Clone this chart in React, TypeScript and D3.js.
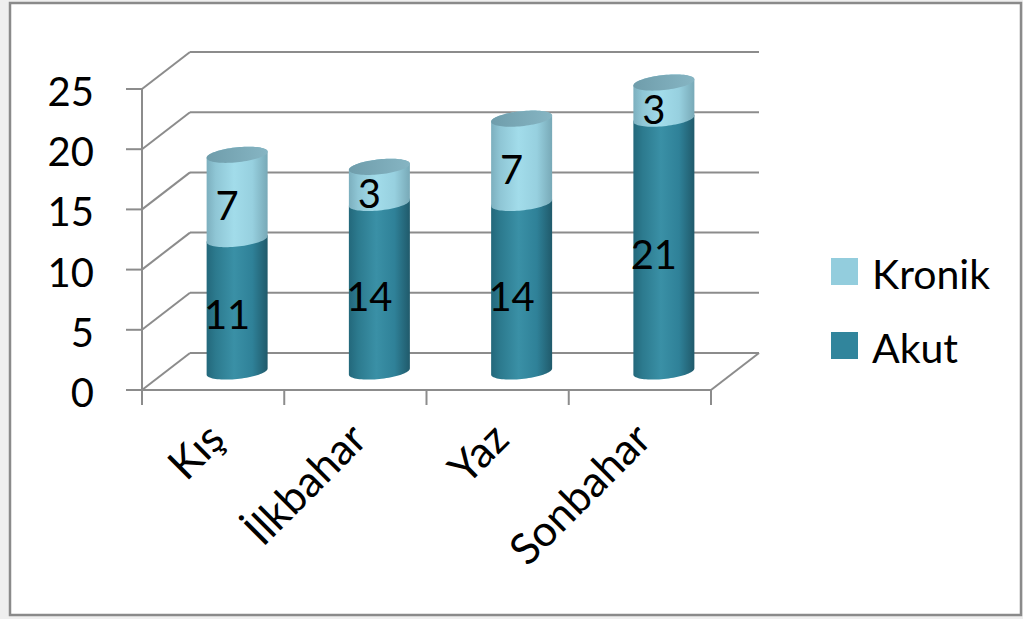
import React from "react";
import * as d3 from "d3";

const categories = ["Kış", "İlkbahar", "Yaz", "Sonbahar"];
const akut = [11, 14, 14, 21];
const kronik = [7, 3, 7, 3];
const yTicks = [0, 5, 10, 15, 20, 25];
const seriesNames = ["Kronik", "Akut"];

const W = 1023;
const H = 619;
const FONT = "Lato, 'Open Sans', sans-serif";

const DX = 48;
const DY = -37;
const RX = 30.5;
const RY = 7.5;
const SHEAR = 0.1;

function ellipsePt(cx: number, cy: number, t: number): [number, number] {
  const ex = RX * Math.cos(t);
  const ey = RY * Math.sin(t);
  return [cx + ex, cy + ey - SHEAR * ex];
}

function sidePath(cx: number, yTop: number, yBot: number): string {
  const p = d3.path();
  const [lx, ly] = ellipsePt(cx, yTop, Math.PI);
  p.moveTo(lx, ly);
  for (let i = 0; i <= 40; i++) {
    const t = Math.PI + (Math.PI * i) / 40;
    const [x, y] = ellipsePt(cx, yTop, t);
    p.lineTo(x, y);
  }
  for (let i = 0; i <= 40; i++) {
    const t = (Math.PI * i) / 40;
    const [x, y] = ellipsePt(cx, yBot, t);
    p.lineTo(x, y);
  }
  p.closePath();
  return p.toString();
}

function topPath(cx: number, y: number): string {
  const p = d3.path();
  for (let i = 0; i <= 80; i++) {
    const t = (2 * Math.PI * i) / 80;
    const [x, yy] = ellipsePt(cx, y, t);
    if (i === 0) p.moveTo(x, yy);
    else p.lineTo(x, yy);
  }
  p.closePath();
  return p.toString();
}

export default function App() {
  const x = d3.scaleBand<string>().domain(categories).range([142, 711]).padding(0);
  const y = d3.scaleLinear().domain([0, 25]).range([390, 89]);
  const x0 = 142;
  const x1 = 711;
  const gridColor = "#8c8c8c";

  const cyl = categories.map((c, i) => {
    const cx = (x(c) as number) + x.bandwidth() / 2 + DX / 2;
    const base = y(0) + DY / 2;
    const mid = y(akut[i]) + DY / 2;
    const top = y(akut[i] + kronik[i]) + DY / 2;
    return { c, i, cx, base, mid, top };
  });

  return (
    <svg
      width={W}
      height={H}
      style={{ position: "absolute", left: 0, top: 0, background: "#ffffff" }}
      fontFamily={FONT}
    >
      <defs>
        <linearGradient id="gAkut" x1="0" x2="1" y1="0" y2="0">
          <stop offset="0" stopColor="#23687b" />
          <stop offset="0.15" stopColor="#2c7a8e" />
          <stop offset="0.45" stopColor="#3a90a6" />
          <stop offset="0.75" stopColor="#2f8198" />
          <stop offset="1" stopColor="#205a6b" />
        </linearGradient>
        <linearGradient id="gKronik" x1="0" x2="1" y1="0" y2="0">
          <stop offset="0" stopColor="#7cafbe" />
          <stop offset="0.15" stopColor="#8fc6d5" />
          <stop offset="0.45" stopColor="#a2dcea" />
          <stop offset="0.75" stopColor="#97d0df" />
          <stop offset="1" stopColor="#78a9b7" />
        </linearGradient>
        <linearGradient id="gTop" x1="0" x2="1" y1="0" y2="0">
          <stop offset="0" stopColor="#6f9dab" />
          <stop offset="1" stopColor="#86b5c3" />
        </linearGradient>
      </defs>
      <rect x={0} y={0} width={W} height={H} fill="#efefef" />
      <rect x={10} y={3} width={1011} height={612} fill="#ffffff" stroke="#8a8a8a" strokeWidth={2.5} />

      <g stroke={gridColor} strokeWidth={2} fill="none">
        {yTicks.map((t) => (
          <g key={t}>
            <line x1={x0 + DX} x2={x1 + DX} y1={y(t) + DY} y2={y(t) + DY} />
            <line x1={x0} x2={x0 + DX} y1={y(t)} y2={y(t) + DY} />
            <line x1={126} x2={x0} y1={y(t)} y2={y(t)} />
          </g>
        ))}
        <line x1={x0} x2={x0} y1={y(25)} y2={y(0)} />
        <line x1={126} x2={x1} y1={y(0)} y2={y(0)} />
        <line x1={x1} x2={x1 + DX} y1={y(0)} y2={y(0) + DY} />
        {[...categories.map((c) => x(c) as number), x1].map((tx, i) => (
          <line key={i} x1={tx} x2={tx} y1={y(0)} y2={y(0) + 15} />
        ))}
      </g>

      <g fontSize={40} fill="#000" textAnchor="end">
        {yTicks.map((t) => (
          <text key={t} x={94} y={y(t) + 2} dominantBaseline="central">
            {t}
          </text>
        ))}
      </g>

      {cyl.map((d) => (
        <g key={d.c}>
          <path d={sidePath(d.cx, d.mid, d.base)} fill="url(#gAkut)" />
          <path d={sidePath(d.cx, d.top, d.mid)} fill="url(#gKronik)" />
          <path d={topPath(d.cx, d.top)} fill="url(#gTop)" />
        </g>
      ))}

      <g fontSize={40} fill="#000" textAnchor="middle">
        {cyl.map((d) => {
          const bx = (x(d.c) as number) + x.bandwidth() / 2 + 14;
          return (
            <g key={d.c}>
              <text x={bx} y={y(akut[d.i] / 2) - 10} dominantBaseline="central">
                {akut[d.i]}
              </text>
              <text x={bx} y={y(akut[d.i] + kronik[d.i] / 2) - 10} dominantBaseline="central">
                {kronik[d.i]}
              </text>
            </g>
          );
        })}
      </g>

      <g fontSize={43} fill="#000" textAnchor="end">
        {categories.map((c) => {
          const cx = (x(c) as number) + x.bandwidth() / 2 + 2;
          const cy = 430;
          return (
            <text key={c} x={cx} y={cy} transform={`rotate(-45 ${cx} ${cy})`} dominantBaseline="central">
              {c}
            </text>
          );
        })}
      </g>

      <g fontSize={41} fill="#000">
        {seriesNames.map((s, i) => (
          <g key={s} transform={`translate(831, ${258 + i * 74})`}>
            <rect width={27} height={27} fill={s === "Akut" ? "#31859c" : "#93cddd"} />
            <text x={41} y={15} dominantBaseline="central">
              {s}
            </text>
          </g>
        ))}
      </g>
    </svg>
  );
}
